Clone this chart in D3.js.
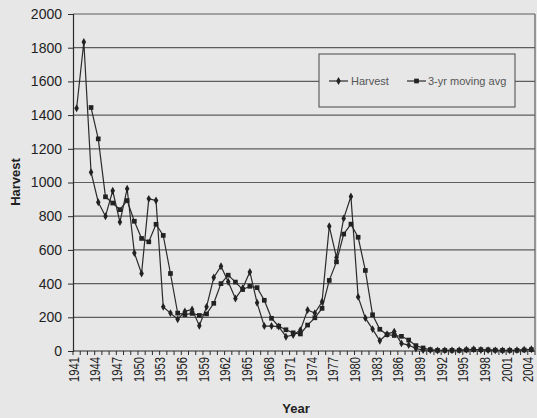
<!DOCTYPE html>
<html>
<head>
<meta charset="utf-8">
<script src="https://cdn.jsdelivr.net/npm/d3@7"></script>
<style>
  html, body { margin: 0; padding: 0; background: #e7e7e7; }
  svg { display: block; }
  text { font-family: "Liberation Sans", Arial, sans-serif; }
</style>
</head>
<body>
<svg id="chart" width="537" height="418"></svg>
<script>
// ---- data ----
const years = d3.range(1941, 2005);
const harvest = [
  1441, 1834, 1061, 883, 800, 951, 765, 963, 582, 460,
  903, 893, 262, 225, 188, 235, 247, 150, 262, 436,
  503, 411, 312, 372, 469, 286, 148, 148, 145, 85,
  95, 124, 243, 225, 292, 740, 555, 787, 917, 321,
  195, 130, 61, 100, 115, 45, 35, 15, 5, 5,
  3, 4, 4, 5, 8, 10, 6, 5, 4, 3,
  4, 5, 8, 10
];
const movingAvg = [
  null, null, 1445, 1259, 915, 878, 839, 893, 770, 668,
  648, 752, 686, 460, 225, 216, 223, 211, 220, 283,
  400, 450, 409, 365, 384, 376, 301, 194, 147, 126,
  108, 101, 154, 197, 253, 419, 529, 694, 753, 675,
  478, 215, 129, 97, 92, 87, 65, 32, 18, 8,
  4, 4, 4, 4, 6, 8, 8, 7, 5, 4,
  4, 4, 6, 8
];
const yTicks = [0, 200, 400, 600, 800, 1000, 1200, 1400, 1600, 1800, 2000];
const xLabelYears = d3.range(1941, 2005, 3);
const seriesNames = ["Harvest", "3-yr moving avg"];

// ---- layout ----
const svg = d3.select("#chart");
const plot = { left: 73, right: 535, top: 14, bottom: 351 };
const ink = "#2b2b2b";
const gridColor = "#5e5e5e";

const x = d3.scaleBand().domain(years).range([plot.left, plot.right]).paddingInner(0).paddingOuter(0);
const cx = d => x(d) + x.bandwidth() / 2;
const y = d3.scaleLinear().domain([0, 2000]).range([plot.bottom, plot.top]);

// gridlines
svg.append("g").selectAll("line").data(yTicks.filter(t => t > 0)).join("line")
  .attr("x1", plot.left).attr("x2", plot.right)
  .attr("y1", d => y(d)).attr("y2", d => y(d))
  .attr("stroke", gridColor).attr("stroke-width", 1.2);

// right border
svg.append("line").attr("x1", plot.right).attr("x2", plot.right)
  .attr("y1", plot.top).attr("y2", plot.bottom)
  .attr("stroke", gridColor).attr("stroke-width", 1.2);

// y axis
const yAxis = d3.axisLeft(y).tickValues(yTicks).tickSize(5).tickPadding(6).tickFormat(d3.format("d"));
const gy = svg.append("g").attr("transform", `translate(${plot.left},0)`).call(yAxis);
gy.select(".domain").attr("stroke", ink).attr("stroke-width", 1.2);
gy.selectAll(".tick line").attr("stroke", ink);
gy.selectAll(".tick text").attr("fill", "#222").style("font-size", "14px")
  .style("font-family", "'Liberation Sans', Arial, sans-serif");

// x axis line and ticks at category boundaries
const gx = svg.append("g");
gx.append("line").attr("x1", plot.left).attr("x2", plot.right)
  .attr("y1", plot.bottom).attr("y2", plot.bottom).attr("stroke", ink).attr("stroke-width", 1.2);
gx.selectAll("line.tk").data(years.concat([2005])).join("line").attr("class", "tk")
  .attr("x1", d => d === 2005 ? plot.right : x(d)).attr("x2", d => d === 2005 ? plot.right : x(d))
  .attr("y1", plot.bottom).attr("y2", plot.bottom + 4)
  .attr("stroke", ink).attr("stroke-width", 1);
gx.selectAll("text").data(xLabelYears).join("text")
  .attr("transform", d => `translate(${cx(d) + 2},${plot.bottom + 6}) rotate(-90)`)
  .attr("text-anchor", "end")
  .attr("fill", "#222")
  .attr("textLength", 25).attr("lengthAdjust", "spacingAndGlyphs")
  .style("font-size", "14px")
  .text(d => d);

// axis titles
svg.append("text").attr("transform", "translate(20,182) rotate(-90)")
  .attr("text-anchor", "middle").attr("font-weight", "bold").attr("fill", "#222")
  .style("font-size", "13px").text("Harvest");
svg.append("text").attr("x", 296).attr("y", 413)
  .attr("text-anchor", "middle").attr("font-weight", "bold").attr("fill", "#222")
  .style("font-size", "13px").text("Year");

// lines
const lineGen = d3.line().defined(d => d.v != null).x(d => cx(d.year)).y(d => y(d.v));
const hData = years.map((yr, i) => ({ year: yr, v: harvest[i] }));
const aData = years.map((yr, i) => ({ year: yr, v: movingAvg[i] }));

svg.append("path").datum(aData).attr("d", lineGen)
  .attr("fill", "none").attr("stroke", ink).attr("stroke-width", 1.2);
svg.append("path").datum(hData).attr("d", lineGen)
  .attr("fill", "none").attr("stroke", ink).attr("stroke-width", 1.2);

const diamond = d3.symbol().type(d3.symbolDiamond).size(18);
const square = d3.symbol().type(d3.symbolSquare).size(22);

svg.append("g").selectAll("path").data(aData.filter(d => d.v != null)).join("path")
  .attr("d", square).attr("transform", d => `translate(${cx(d.year)},${y(d.v)})`)
  .attr("fill", "#222");
svg.append("g").selectAll("path").data(hData).join("path")
  .attr("d", diamond).attr("transform", d => `translate(${cx(d.year)},${y(d.v)})`)
  .attr("fill", "#222");

// legend
const lg = svg.append("g");
lg.append("rect").attr("x", 319).attr("y", 54).attr("width", 196).attr("height", 53)
  .attr("fill", "#e7e7e7").attr("stroke", "#555").attr("stroke-width", 1.1);
const legendItems = [
  { name: seriesNames[0], x0: 329, sym: diamond, tx: 351 },
  { name: seriesNames[1], x0: 407, sym: square, tx: 428 }
];
legendItems.forEach(it => {
  lg.append("line").attr("x1", it.x0).attr("x2", it.x0 + 19).attr("y1", 81).attr("y2", 81)
    .attr("stroke", ink).attr("stroke-width", 1.2);
  lg.append("path").attr("d", it.sym).attr("transform", `translate(${it.x0 + 9.5},81)`).attr("fill", "#222");
  lg.append("text").attr("x", it.tx).attr("y", 85).attr("fill", "#555")
    .style("font-size", "11px").text(it.name);
});
</script>
</body>
</html>
